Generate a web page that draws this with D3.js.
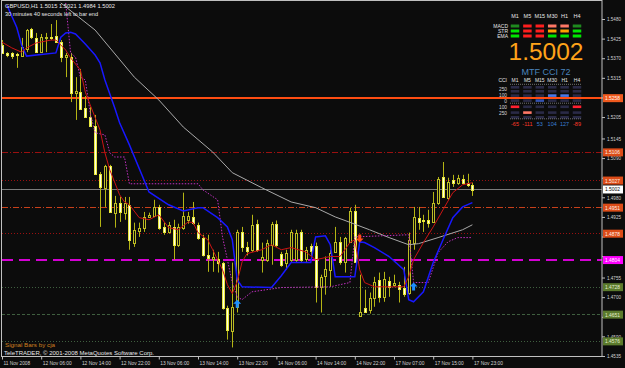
<!DOCTYPE html>
<html lang="en">
<head>
<meta charset="UTF-8">
<title>GBPUSD,H1</title>
<script src="https://d3js.org/d3.v7.min.js"></script>
<style>
  body { margin: 0; background: #0c0c0c; }
  svg text { font-family: "Liberation Sans", Arial, sans-serif; }
</style>
</head>
<body>
<div id="chart"></div>
<script>
const W = 625, H = 368;

// H1 bars from 11 Nov 22:00 to 17 Nov 23:00
const timeLabels = ["11 Nov 2008", "12 Nov 06:00", "12 Nov 14:00", "12 Nov 22:00", "13 Nov 06:00",
  "13 Nov 14:00", "13 Nov 22:00", "14 Nov 06:00", "14 Nov 14:00", "14 Nov 22:00",
  "17 Nov 07:00", "17 Nov 15:00", "17 Nov 23:00"];
const timeTickBars = [0, 8, 16, 24, 32, 40, 48, 56, 64, 72, 80, 88, 96];
const priceTicks = ["1.5480", "1.5425", "1.5370", "1.5315", "1.5260", "1.5205", "1.5145", "1.5090", "1.5035",
  "1.4980", "1.4925", "1.4870", "1.4815", "1.4755", "1.4700", "1.4645", "1.4590", "1.4535"];

const openP = [1.5407,1.5385,1.5385,1.5382,1.5376,1.5396,1.5452,1.5427,1.5387,1.5427,
  1.5429,1.5432,1.5415,1.5373,1.5373,1.5273,1.5275,1.5231,1.5205,1.5180,
  1.5046,1.5007,1.5068,1.4937,1.4965,1.4937,1.4959,1.4853,1.4886,1.4895,
  1.4925,1.4928,1.4953,1.4897,1.4883,1.4897,1.4847,1.4895,1.4917,1.4925,
  1.4903,1.4867,1.4817,1.4808,1.4808,1.4797,1.4671,1.4606,1.4673,1.4883,
  1.4841,1.4833,1.4906,1.4805,1.4805,1.4847,1.4906,1.4822,1.4797,1.4805,
  1.4805,1.4883,1.4808,1.4844,1.4844,1.4729,1.4760,1.4777,1.4827,1.4855,
  1.4799,1.4855,1.4942,1.4648,1.4671,1.4662,1.4699,1.4749,1.4701,1.4746,
  1.4735,1.4735,1.4727,1.4713,1.4853,1.4923,1.4917,1.4917,1.4911,1.4965,
  1.5037,1.4979,1.5029,1.5021,1.5032,1.5021,1.5015];
const highP = [1.5421,1.5387,1.5387,1.5385,1.5427,1.5452,1.5455,1.5441,1.5438,1.5441,
  1.5466,1.5477,1.5421,1.5385,1.5385,1.5317,1.5340,1.5264,1.5233,1.5211,
  1.5051,1.5071,1.5071,1.4984,1.4981,1.4981,1.4981,1.4909,1.4909,1.4939,
  1.4937,1.4973,1.4959,1.4909,1.4911,1.4917,1.4906,1.4993,1.4939,1.4967,
  1.4909,1.4875,1.4875,1.4833,1.4827,1.4799,1.4676,1.4797,1.4889,1.4897,
  1.4855,1.4931,1.4917,1.4853,1.4861,1.4911,1.4915,1.4827,1.4833,1.4889,
  1.4889,1.4889,1.4841,1.4850,1.4853,1.4763,1.4814,1.4833,1.4897,1.4869,
  1.4869,1.4951,1.4959,1.4763,1.4721,1.4713,1.4757,1.4769,1.4771,1.4757,
  1.4763,1.4743,1.4785,1.4881,1.4953,1.4953,1.4931,1.4945,1.4995,1.5037,
  1.5079,1.5035,1.5043,1.5043,1.5043,1.5046,1.5021];
const lowP = [1.5382,1.5373,1.5368,1.5343,1.5376,1.5387,1.5424,1.5385,1.5385,1.5387,
  1.5421,1.5413,1.5359,1.5317,1.5247,1.5197,1.5225,1.5203,1.5177,1.5043,
  1.4897,1.4953,1.4937,1.4895,1.4911,1.4917,1.4833,1.4841,1.4869,1.4883,
  1.4923,1.4925,1.4889,1.4875,1.4878,1.4805,1.4841,1.4889,1.4906,1.4903,
  1.4861,1.4814,1.4771,1.4771,1.4769,1.4665,1.4581,1.4559,1.4657,1.4827,
  1.4817,1.4827,1.4827,1.4769,1.4799,1.4791,1.4841,1.4785,1.4777,1.4799,
  1.4799,1.4799,1.4799,1.4814,1.4685,1.4657,1.4707,1.4729,1.4825,1.4791,
  1.4769,1.4853,1.4797,1.4645,1.4657,1.4654,1.4673,1.4685,1.4687,1.4701,
  1.4729,1.4685,1.4701,1.4707,1.4833,1.4889,1.4883,1.4895,1.4909,1.4959,
  1.4979,1.4973,1.5009,1.5015,1.5015,1.5009,1.4984];
const closeP = [1.5385,1.5379,1.5376,1.5380,1.5401,1.5449,1.5429,1.5387,1.5429,1.5429,
  1.5428,1.5415,1.5373,1.5379,1.5273,1.5278,1.5228,1.5205,1.5180,1.5046,
  1.5009,1.5068,1.4939,1.4965,1.4939,1.4965,1.4861,1.4889,1.4895,1.4925,
  1.4931,1.4953,1.4895,1.4883,1.4903,1.4847,1.4897,1.4928,1.4928,1.4909,
  1.4867,1.4819,1.4808,1.4814,1.4797,1.4671,1.4609,1.4673,1.4883,1.4841,
  1.4830,1.4903,1.4833,1.4814,1.4853,1.4906,1.4847,1.4791,1.4825,1.4883,
  1.4881,1.4805,1.4833,1.4830,1.4729,1.4757,1.4780,1.4825,1.4855,1.4799,
  1.4867,1.4942,1.4799,1.4659,1.4659,1.4697,1.4743,1.4701,1.4751,1.4729,
  1.4741,1.4724,1.4710,1.4861,1.4925,1.4911,1.4915,1.4909,1.4965,1.5032,
  1.4981,1.5023,1.5021,1.5035,1.5021,1.5015,1.5002];

// indicator lines: bar index / price pairs
const blueIdx = [1,3,4,5,11,12,13,14,15,17,19,20,21,23,24,26,30,34,37,40,41,44,46,47,48,49,55,57,59,63,
  64,66,67,68,72,73,74,76,79,82,83,84,86,88,90,92,94,96];
const blueVal = [1.5519,1.5457,1.5407,1.5376,1.5385,1.5429,1.5441,1.5443,1.5438,1.5410,
  1.5379,1.5357,1.5309,1.5231,1.5189,1.5127,1.4995,1.4959,1.4942,1.4951,
  1.4951,1.4923,1.4897,1.4861,1.4749,1.4729,1.4727,1.4760,1.4797,1.4797,
  1.4869,1.4872,1.4847,1.4757,1.4757,1.4855,1.4853,1.4839,1.4814,1.4777,
  1.4693,1.4687,1.4715,1.4797,1.4861,1.4923,1.4953,1.4965];
const redIdx = [0,2,4,5,7,10,11,13,14,16,17,18,20,21,22,24,25,26,28,30,32,34,36,38,39,40,42,43,44,45,
  46,47,48,49,50,53,55,57,59,62,64,67,69,71,72,73,74,76,82,83,84,86,88,90,92,94,96];
const redVal = [1.5415,1.5399,1.5387,1.5399,1.5413,1.5421,1.5421,1.5393,1.5371,1.5337,
  1.5275,1.5239,1.5169,1.5105,1.5057,1.4987,1.4967,1.4959,1.4923,1.4917,
  1.4931,1.4895,1.4889,1.4911,1.4909,1.4881,1.4861,1.4833,1.4805,1.4777,
  1.4735,1.4710,1.4743,1.4799,1.4822,1.4833,1.4847,1.4833,1.4839,1.4827,
  1.4805,1.4814,1.4814,1.4853,1.4861,1.4777,1.4741,1.4729,1.4729,1.4757,
  1.4805,1.4853,1.4897,1.4945,1.4993,1.5015,1.5021];
const magIdx = [13,14,15,16,17,18,19,21,22,23,25,26,40,41,44,45,47,48,49,51,54,57,67,71,72,83,84,87,89,91,93,96];
const magVal = [1.5525,1.5385,1.5373,1.5317,1.5309,1.5217,1.5161,1.5155,1.5105,1.5093,
  1.5093,1.5018,1.5018,1.5001,1.4973,1.4869,1.4741,1.4701,1.4693,1.4715,
  1.4721,1.4727,1.4729,1.4741,1.4869,1.4875,1.4741,1.4741,1.4825,1.4855,
  1.4867,1.4867];
const grayIdx = [12,19,27,32,37,43,47,53,59,64,68,70,75,79,83,85,89,94,96];
const grayVal = [1.5525,1.5449,1.5317,1.5253,1.5177,1.5107,1.5049,1.5007,1.4967,1.4951,
  1.4925,1.4915,1.4889,1.4867,1.4847,1.4850,1.4867,1.4889,1.4903];

// signal arrows
const upArrowIdx = [48, 84];
const upArrowVal = [1.4693, 1.4741];
const downArrowIdx = [73];
const downArrowVal = [1.4853];

// horizontal levels
const levelVal = [1.5258, 1.5106, 1.5027, 1.5002, 1.4951, 1.4878, 1.4804, 1.4728, 1.4651, 1.4576];
const levelKind = ["day", "res", "resDot", "bid", "mid", "resDot", "pivot", "supDot", "sup", "supDot"];

// panel data
const tfLabels = ["M1", "M5", "M15", "M30", "H1", "H4"];
const signalNames = ["MACD", "STR", "EMA"];
const signalState = [
  ["up", "down", "down", "weakDown", "weakDown", "up"],
  ["strongUp", "down", "down", "weakUp", "weakUp", "strongUp"],
  ["strongUp", "down", "down", "strongUp", "strongUp", "strongUp"]
];
const lastPrice = "1.5002";
const cciTitle = "MTF CCI 72";
const cciValues = [-65, -111, 53, 104, 127, -89];
const cciLevels = ["250", "100", "0", "100", "250"];

// ---- styles ----
const levelStyle = {
  day:    { color: "#ff4d12", width: 2, dash: null, box: "#f05a1e", text: "#fff4ea" },
  res:    { color: "#9a1010", width: 1, dash: "6,2,1,2", box: "#dc4c18", text: "#fff0e6" },
  resDot: { color: "#9a1010", width: 1, dash: "1,2", box: "#dc4c18", text: "#fff0e6" },
  bid:    { color: "#7c7c7c", width: 1, dash: null, box: "#ffffff", text: "#000000" },
  mid:    { color: "#c8401a", width: 1, dash: "6,2,1,2", box: "#dc4c18", text: "#fff0e6" },
  pivot:  { color: "#d400d4", width: 2, dash: "11,6", box: "#ff00ff", text: "#ffffff" },
  supDot: { color: "#3f5f3f", width: 1, dash: "1,2", box: "#5b7a2c", text: "#e4f0d0" },
  sup:    { color: "#3f5f3f", width: 1, dash: "3,2", box: "#5b7a2c", text: "#e4f0d0" }
};
const stateColor = { up: "#1f8a1f", strongUp: "#00e600", down: "#ff1e1e", weakDown: "#ff7866", weakUp: "#ffa000" };

const xs = d3.scaleLinear().domain([0, 96]).range([2, 472.4]);
const ys = d3.scaleLinear().domain([1.4535, 1.5480]).range([356, 19]);

const svg = d3.select("#chart").append("svg")
  .attr("width", W).attr("height", H)
  .style("background", "#0c0c0c");

svg.append("defs").append("clipPath").attr("id", "plot")
  .append("rect").attr("x", 2).attr("y", 1).attr("width", 600).attr("height", 355);

// ---- top-right panel ----
const panel = svg.append("g");
const colX = d3.scalePoint().domain(tfLabels).range([515, 577]);

panel.selectAll("text.tf").data(tfLabels).enter().append("text")
  .attr("x", d => colX(d)).attr("y", 18).attr("text-anchor", "middle")
  .attr("font-size", 5.5).attr("fill", "#e6e6e6").text(d => d);

const rowY = d3.scalePoint().domain(signalNames).range([24.5, 34.5]);
signalNames.forEach((name, r) => {
  panel.append("text").attr("x", 508).attr("y", rowY(name) + 3).attr("text-anchor", "end")
    .attr("font-size", 5).attr("fill", "#e6e6e6").text(name);
  panel.selectAll(null).data(signalState[r]).enter().append("rect")
    .attr("x", (d, i) => colX(tfLabels[i]) - 4.25).attr("y", rowY(name))
    .attr("width", 8.5).attr("height", 3).attr("fill", d => stateColor[d]);
});

panel.append("text").attr("x", 546).attr("y", 60).attr("text-anchor", "middle")
  .attr("font-size", 24.5).attr("fill", "#ffa31a").text(lastPrice);
panel.append("text").attr("x", 546).attr("y", 75).attr("text-anchor", "middle")
  .attr("font-size", 9).attr("fill", "#4a84bc").text(cciTitle);

panel.selectAll("text.tf2").data(tfLabels).enter().append("text")
  .attr("x", d => colX(d)).attr("y", 82).attr("text-anchor", "middle")
  .attr("font-size", 5).attr("fill", "#e6e6e6").text(d => d);
panel.append("text").attr("x", 507).attr("y", 82).attr("text-anchor", "end")
  .attr("font-size", 5).attr("fill", "#e6e6e6").text("CCI");

// CCI bins: >=250, 175..250, 100..175, 0..100, -100..0, -175..-100, < -175
const cciRows = [86, 90, 94.3, 99.3, 105.5, 111.3, 116];
const cciBin = v => v >= 250 ? 0 : v >= 175 ? 1 : v >= 100 ? 2 : v >= 0 ? 3 : v >= -100 ? 4 : v >= -175 ? 5 : 6;
const binColor = ["#4a78e8", "#4a78e8", "#4a78e8", "#3352b0", "#ff2030", "#ff7866", "#ff7866"];
cciRows.forEach((ry, r) => {
  panel.selectAll(null).data(cciValues).enter().append("rect")
    .attr("x", (d, i) => colX(tfLabels[i]) - 4.25).attr("y", ry)
    .attr("width", 8.5).attr("height", 2.6)
    .attr("fill", d => cciBin(d) === r ? binColor[r] : "#2a2a46");
});
[84.3, 103.2, 118.8].forEach(ly => {
  panel.append("line").attr("x1", 510).attr("x2", 582).attr("y1", ly).attr("y2", ly)
    .attr("stroke", "#8a8a8a").attr("stroke-dasharray", "1,1").attr("stroke-width", 0.8);
});
const cciLabelY = [89.5, 95.5, 101.5, 107.5, 113];
cciLevels.forEach((t, i) => {
  panel.append("text").attr("x", 507).attr("y", cciLabelY[i] + 1.5).attr("text-anchor", "end")
    .attr("font-size", 4.8).attr("fill", "#d8d8d8").text(t);
});
panel.selectAll("text.cci").data(cciValues).enter().append("text")
  .attr("x", (d, i) => colX(tfLabels[i])).attr("y", 126).attr("text-anchor", "middle")
  .attr("font-size", 5.5).attr("fill", d => d < 0 ? "#ff3a2a" : "#3a7fd6").text(d => d);

// ---- plot area ----
const plot = svg.append("g").attr("clip-path", "url(#plot)");

// levels
levelVal.forEach((v, i) => {
  const st = levelStyle[levelKind[i]];
  plot.append("line")
    .attr("x1", 2).attr("x2", 602).attr("y1", ys(v)).attr("y2", ys(v))
    .attr("stroke", st.color).attr("stroke-width", st.width)
    .attr("stroke-dasharray", st.dash)
    .attr("shape-rendering", "crispEdges");
});

// candles
const bars = d3.range(openP.length).map(i => ({ i, o: openP[i], h: highP[i], l: lowP[i], c: closeP[i] }));
const cx = d => Math.round(xs(d.i));

plot.selectAll("line.wick").data(bars).enter().append("line")
  .attr("x1", d => cx(d) + 0.5).attr("x2", d => cx(d) + 0.5)
  .attr("y1", d => ys(d.h)).attr("y2", d => ys(d.l))
  .attr("stroke", "#b4b414").attr("stroke-width", 1);

plot.selectAll("rect.body").data(bars).enter().append("rect")
  .attr("x", d => cx(d) - 0.5)
  .attr("y", d => Math.round(ys(Math.max(d.o, d.c))) + 0.5)
  .attr("width", 2)
  .attr("height", d => Math.max(1, Math.round(Math.abs(ys(d.o) - ys(d.c)))))
  .attr("fill", d => d.c > d.o ? "#0c0c0c" : "#ffffe4")
  .attr("stroke", d => d.c > d.o ? "#bcbc24" : "#e8e83c")
  .attr("stroke-width", 1);

// indicator lines
const line = d3.line().x(d => xs(d[0])).y(d => ys(d[1]));
plot.append("path").datum(d3.zip(grayIdx, grayVal)).attr("d", line)
  .attr("fill", "none").attr("stroke", "#a9a9a9").attr("stroke-width", 1);
plot.append("path").datum(d3.zip(magIdx, magVal)).attr("d", line)
  .attr("fill", "none").attr("stroke", "#c030c0").attr("stroke-width", 1).attr("stroke-dasharray", "1.5,1.5");
plot.append("path").datum(d3.zip(blueIdx, blueVal)).attr("d", line)
  .attr("fill", "none").attr("stroke", "#1818ff").attr("stroke-width", 1.5);
plot.append("path").datum(d3.zip(redIdx, redVal)).attr("d", line)
  .attr("fill", "none").attr("stroke", "#cc1414").attr("stroke-width", 1);

// arrows
const upPath = (x, y) => `M${x},${y}L${x + 4},${y + 4}L${x + 1.5},${y + 4}L${x + 1.5},${y + 8}L${x - 1.5},${y + 8}L${x - 1.5},${y + 4}L${x - 4},${y + 4}Z`;
const downPath = (x, y) => `M${x},${y}L${x + 4},${y - 4}L${x + 1.5},${y - 4}L${x + 1.5},${y - 8}L${x - 1.5},${y - 8}L${x - 1.5},${y - 4}L${x - 4},${y - 4}Z`;
plot.selectAll("path.up").data(d3.zip(upArrowIdx, upArrowVal)).enter().append("path")
  .attr("d", d => upPath(xs(d[0]), ys(d[1]))).attr("fill", "#1e90ff");
plot.selectAll("path.dn").data(d3.zip(downArrowIdx, downArrowVal)).enter().append("path")
  .attr("d", d => downPath(xs(d[0]), ys(d[1]))).attr("fill", "#ff4a1a");

// ---- frame and axes ----
svg.append("rect").attr("x", 1.5).attr("y", 0.5).attr("width", 600.5).attr("height", 356)
  .attr("fill", "none").attr("stroke", "#c0c0c0").attr("stroke-width", 1);

// tick labels that sit under a price tag are hidden, as in the terminal
const hiddenTick = v => levelVal.some(l => Math.abs(ys(l) - ys(v)) < 4.5);
const yAxis = svg.append("g").attr("transform", "translate(602,0)")
  .call(d3.axisRight(ys).tickValues(priceTicks.map(Number))
    .tickFormat((d, i) => hiddenTick(d) ? "" : priceTicks[i]).tickSize(3).tickPadding(2));
yAxis.select(".domain").remove();
yAxis.selectAll("line").attr("stroke", "#c0c0c0");
yAxis.selectAll("text").attr("fill", "#d4d4d4").attr("font-size", 5.5)
  .filter(function () { return this.textContent.length > 0; })
  .attr("textLength", 14).attr("lengthAdjust", "spacingAndGlyphs");

const xAxis = svg.append("g").attr("transform", "translate(0,356.5)")
  .call(d3.axisBottom(xs).tickValues(timeTickBars)
    .tickFormat((d, i) => timeLabels[i]).tickSize(3).tickPadding(2));
xAxis.select(".domain").remove();
xAxis.selectAll("line").attr("stroke", "#c0c0c0");
xAxis.selectAll("text").attr("fill", "#d4d4d4").attr("font-size", 5.5)
  .attr("text-anchor", "start").attr("x", 1)
  .attr("lengthAdjust", "spacingAndGlyphs")
  .attr("textLength", function () { return this.textContent.length * 2.42; });

// price tags on the right axis
const tags = svg.append("g");
levelVal.forEach((v, i) => {
  const st = levelStyle[levelKind[i]];
  tags.append("rect").attr("x", 603).attr("y", ys(v) - 4).attr("width", 20).attr("height", 8)
    .attr("fill", st.box);
  tags.append("text").attr("x", 605).attr("y", ys(v) + 2)
    .attr("font-size", 5.5).attr("fill", st.text)
    .attr("textLength", 15).attr("lengthAdjust", "spacingAndGlyphs")
    .text(v.toFixed(4));
});

// texts
const note = (x, y, t, col, len) => svg.append("text").attr("x", x).attr("y", y)
  .attr("font-size", 6).attr("fill", col)
  .attr("textLength", len).attr("lengthAdjust", "spacingAndGlyphs").text(t);
note(5, 8, "GBPUSD,H1  1.5015 1.5021 1.4984 1.5002", "#e8e8e8", 110);
note(5, 15.5, "30 minutes 40 seconds left to bar end", "#e8e8e8", 93);
note(5, 346.5, "Signal Bars by cja", "#d08020", 50);
note(4, 355, "TeleTRADER, \u00a9 2001-2008 MetaQuotes Software Corp.", "#e8e8e8", 150);
</script>
</body>
</html>
